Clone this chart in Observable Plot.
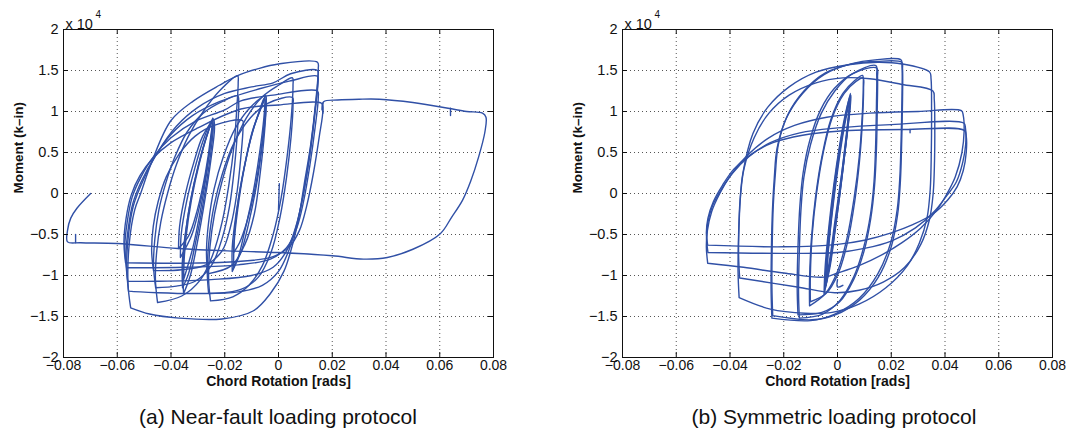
<!DOCTYPE html>
<html><head><meta charset="utf-8">
<script src="https://cdn.jsdelivr.net/npm/d3@7"></script>
<script src="https://cdn.jsdelivr.net/npm/@observablehq/plot@0.6"></script>
<style>
body{margin:0;background:#fff;}
#wrap{position:relative;width:1076px;height:433px;overflow:hidden;font-family:'Liberation Sans',Arial,Helvetica,sans-serif;}
.panel{position:absolute;top:0;}
.cap{position:absolute;top:404px;font-size:21px;line-height:26px;text-align:center;color:#111;white-space:nowrap;}
</style></head>
<body>
<div id="wrap">
  <div id="pa" class="panel" style="left:0"></div>
  <div id="pb" class="panel" style="left:538px"></div>
  <div class="cap" style="left:0;width:556px">(a) Near-fault loading protocol</div>
  <div class="cap" style="left:612px;width:444px">(b) Symmetric loading protocol</div>
</div>
<script>
// Axis ticks
const xTicks = [-0.08,-0.06,-0.04,-0.02,0,0.02,0.04,0.06,0.08];
const yTicks = [-2,-1.5,-1,-0.5,0,0.5,1,1.5,2];
const xLabel = "Chord Rotation [rads]";
const yLabel = "Moment (k\u2013in)";
const yExponent = "4";

// ---- Panel (a): chord rotation [rad], moment [x1e4 k-in] ----
const aExcursion = [[0.0162,1.02],[0.0168,1.12],[0.022,1.14],[0.03,1.15],[0.0376,1.15],[0.05,1.11],[0.0631,1.04],[0.07,1.0],[0.0759,0.98],[0.0772,0.93],[0.0768,0.75],[0.0745,0.45],[0.0715,0.15],[0.0685,-0.08],[0.0644,-0.29],[0.0602,-0.49],[0.05,-0.68],[0.0405,-0.78],[0.0316,-0.8],[0.02,-0.76],[0.0,-0.72],[-0.019,-0.7],[-0.0375,-0.67],[-0.06,-0.61],[-0.0736,-0.6],[-0.0785,-0.59],[-0.0785,-0.45],[-0.0773,-0.3],[-0.075,-0.18],[-0.0699,0.0]];
const aSpike0 = [[0.0003,0.12],[0.0,-0.2]];
const aSpike1 = [[-0.0755,-0.6],[-0.0755,-0.5]];
const aSpike2 = [[0.064,1.04],[0.064,0.95]];
const aSpike3 = [[0.0165,1.1],[0.0165,0.98]];
const aLoop1 = [[-0.055,-1.395],[-0.056,-1.1],[-0.0555,-0.6],[-0.0535,-0.2],[-0.0513,0.0],[-0.047,0.4],[-0.04,0.89],[-0.0316,1.13],[-0.022,1.32],[-0.015,1.44],[-0.0078,1.52],[0.0,1.58],[0.0145,1.6],[0.0148,1.52],[0.0138,1.1],[0.012,0.6],[0.0095,0.1],[0.0075,-0.3],[0.005,-0.65],[0.002,-0.95],[-0.003,-1.22],[-0.0093,-1.43],[-0.021,-1.53],[-0.037,-1.52],[-0.048,-1.47],[-0.055,-1.395]];
const aLoop2 = [[-0.0558,-1.19],[-0.0565,-0.9],[-0.0558,-0.5],[-0.054,-0.15],[-0.0505,0.15],[-0.045,0.5],[-0.038,0.82],[-0.03,1.05],[-0.02,1.22],[-0.01,1.3],[-0.002,1.35],[0.0045,1.46],[0.0145,1.5],[0.0147,1.42],[0.0136,1.0],[0.0118,0.5],[0.0093,0.0],[0.007,-0.35],[0.004,-0.68],[0.0,-0.95],[-0.006,-1.12],[-0.015,-1.2],[-0.03,-1.22],[-0.045,-1.21],[-0.0558,-1.19]];
const aLoop3 = [[-0.0561,-1.07],[-0.0568,-0.8],[-0.056,-0.45],[-0.0542,-0.12],[-0.051,0.15],[-0.046,0.45],[-0.04,0.72],[-0.032,0.95],[-0.022,1.12],[-0.0067,1.28],[0.004,1.37],[0.0145,1.43],[0.0147,1.35],[0.0134,0.95],[0.0115,0.45],[0.009,-0.05],[0.0065,-0.4],[0.003,-0.7],[-0.002,-0.9],[-0.01,-1.0],[-0.025,-1.05],[-0.045,-1.07],[-0.0561,-1.07]];
const aLoop4 = [[-0.0565,-0.905],[-0.0572,-0.65],[-0.0563,-0.35],[-0.0545,-0.05],[-0.0512,0.2],[-0.0465,0.45],[-0.04,0.68],[-0.031,0.88],[-0.02,1.02],[-0.014,1.13],[-0.002,1.2],[0.0145,1.25],[0.0148,1.17],[0.0136,0.8],[0.0117,0.35],[0.0093,-0.1],[0.0068,-0.42],[0.003,-0.66],[-0.003,-0.8],[-0.015,-0.87],[-0.035,-0.9],[-0.0565,-0.905]];
const aLoop5 = [[-0.0569,-0.845],[-0.0575,-0.6],[-0.0567,-0.3],[-0.0548,-0.02],[-0.0515,0.22],[-0.047,0.42],[-0.04,0.62],[-0.03,0.8],[-0.014,1.03],[0.0,1.08],[0.016,1.1],[0.0165,1.02],[0.0152,0.7],[0.013,0.25],[0.0105,-0.15],[0.0078,-0.45],[0.004,-0.65],[-0.002,-0.77],[-0.015,-0.83],[-0.035,-0.85],[-0.0569,-0.845]];
const aLoop6 = [[-0.045,-1.33],[-0.0458,-1.05],[-0.0453,-0.7],[-0.0438,-0.35],[-0.0413,0.0],[-0.038,0.35],[-0.0335,0.7],[-0.028,1.0],[-0.022,1.25],[-0.0152,1.435],[-0.015,1.35],[-0.0155,1.05],[-0.0165,0.6],[-0.0185,0.1],[-0.021,-0.35],[-0.0245,-0.75],[-0.029,-1.05],[-0.036,-1.25],[-0.045,-1.33]];
const aLoop7 = [[-0.0457,-1.15],[-0.0465,-0.88],[-0.046,-0.55],[-0.0445,-0.2],[-0.042,0.12],[-0.0385,0.45],[-0.034,0.75],[-0.028,0.98],[-0.021,1.12],[-0.0152,1.19],[-0.0148,1.1],[-0.0152,0.8],[-0.0163,0.35],[-0.0182,-0.15],[-0.021,-0.55],[-0.025,-0.88],[-0.031,-1.07],[-0.038,-1.13],[-0.0457,-1.15]];
const aLoop8 = [[-0.0465,-0.94],[-0.0472,-0.7],[-0.0466,-0.4],[-0.0448,-0.1],[-0.0418,0.2],[-0.037,0.48],[-0.031,0.7],[-0.024,0.83],[-0.0134,0.89],[-0.0132,0.8],[-0.014,0.45],[-0.0155,0.0],[-0.0178,-0.4],[-0.021,-0.7],[-0.027,-0.87],[-0.036,-0.93],[-0.0465,-0.94]];
const aThin1 = [[-0.0353,-1.22],[-0.0356,-0.95],[-0.0348,-0.55],[-0.0328,-0.1],[-0.0298,0.35],[-0.0265,0.72],[-0.0242,0.91],[-0.0238,0.8],[-0.0252,0.4],[-0.0275,-0.1],[-0.0302,-0.6],[-0.0328,-1.0],[-0.0353,-1.22]];
const aThin2 = [[-0.0357,-1.15],[-0.0358,-0.85],[-0.0345,-0.45],[-0.0322,0.0],[-0.0292,0.42],[-0.0262,0.76],[-0.0245,0.9],[-0.0243,0.78],[-0.0258,0.35],[-0.0282,-0.15],[-0.031,-0.62],[-0.0335,-0.98],[-0.0357,-1.15]];
const aThin3 = [[-0.0365,-0.78],[-0.0362,-0.5],[-0.0342,-0.1],[-0.0312,0.3],[-0.028,0.65],[-0.025,0.88],[-0.0246,0.82],[-0.0262,0.4],[-0.029,-0.1],[-0.0322,-0.5],[-0.0365,-0.78]];
const aThin4 = [[-0.0372,-0.67],[-0.0368,-0.4],[-0.0346,0.0],[-0.0315,0.38],[-0.0282,0.7],[-0.0248,0.86],[-0.0252,0.7],[-0.0272,0.25],[-0.0302,-0.2],[-0.0335,-0.52],[-0.0372,-0.67]];
const aThin5 = [[-0.0353,-1.05],[-0.035,-0.75],[-0.0335,-0.3],[-0.031,0.15],[-0.028,0.55],[-0.0255,0.82],[-0.0244,0.92],[-0.0248,0.75],[-0.0265,0.3],[-0.029,-0.2],[-0.0318,-0.65],[-0.0353,-1.05]];
const aMid1 = [[-0.0253,-1.31],[-0.026,-1.05],[-0.0255,-0.65],[-0.0238,-0.25],[-0.021,0.15],[-0.0172,0.55],[-0.012,0.92],[-0.006,1.18],[0.0,1.32],[0.0052,1.41],[0.0054,1.32],[0.0048,0.95],[0.0032,0.45],[0.001,-0.05],[-0.002,-0.5],[-0.006,-0.88],[-0.011,-1.12],[-0.017,-1.26],[-0.0253,-1.31]];
const aMid2 = [[-0.026,-1.22],[-0.0265,-0.95],[-0.0258,-0.55],[-0.024,-0.15],[-0.0208,0.25],[-0.0165,0.62],[-0.0105,0.92],[-0.004,1.1],[0.0052,1.17],[0.0054,1.08],[0.0047,0.7],[0.003,0.2],[0.0005,-0.3],[-0.0028,-0.72],[-0.0075,-1.02],[-0.014,-1.17],[-0.026,-1.22]];
const aMid3 = [[-0.0264,-0.98],[-0.0268,-0.7],[-0.026,-0.35],[-0.024,0.05],[-0.0205,0.45],[-0.016,0.8],[-0.0105,1.05],[-0.0048,1.19],[-0.0046,1.1],[-0.0052,0.75],[-0.0068,0.25],[-0.009,-0.25],[-0.0125,-0.62],[-0.0175,-0.88],[-0.0264,-0.98]];
const aMid4 = [[-0.0167,-0.9],[-0.0165,-0.6],[-0.0152,-0.2],[-0.0128,0.3],[-0.0098,0.75],[-0.0065,1.05],[-0.0048,1.19],[-0.0046,1.08],[-0.0058,0.65],[-0.0082,0.1],[-0.011,-0.35],[-0.0138,-0.7],[-0.0167,-0.9]];
const aMid5 = [[-0.0167,-0.72],[-0.0163,-0.45],[-0.0148,-0.05],[-0.0122,0.4],[-0.0092,0.8],[-0.006,1.08],[-0.005,1.15],[-0.005,1.0],[-0.0064,0.55],[-0.0088,0.05],[-0.0118,-0.35],[-0.0145,-0.6],[-0.0167,-0.72]];
const aMid6 = [[-0.0172,-0.95],[-0.0172,-0.65],[-0.0158,-0.25],[-0.0135,0.2],[-0.0105,0.65],[-0.0072,1.0],[-0.0052,1.17],[-0.0052,1.02],[-0.0068,0.55],[-0.0095,0.0],[-0.0125,-0.45],[-0.015,-0.78],[-0.0172,-0.95]];

// ---- Panel (b) ----
const bElastic1 = [[-0.0047,-1.18],[-0.0042,-0.85],[-0.0028,-0.35],[-0.001,0.15],[0.001,0.6],[0.003,0.95],[0.0048,1.22],[0.0046,1.05],[0.0033,0.65],[0.0015,0.15],[-0.0005,-0.35],[-0.0025,-0.8],[-0.0047,-1.18]];
const bElastic2 = [[-0.0043,-1.12],[-0.0037,-0.78],[-0.0023,-0.3],[-0.0005,0.2],[0.0015,0.65],[0.0033,0.98],[0.0045,1.15],[0.0042,1.0],[0.0028,0.58],[0.001,0.08],[-0.001,-0.42],[-0.0028,-0.85],[-0.0043,-1.12]];
const bElastic3 = [[-0.005,-1.22],[-0.0046,-0.9],[-0.0032,-0.4],[-0.0014,0.1],[0.0006,0.55],[0.0026,0.92],[0.0046,1.18],[0.0045,1.05],[0.0032,0.66],[0.0013,0.18],[-0.0008,-0.3],[-0.0028,-0.78],[-0.005,-1.22]];
const bElastic4 = [[-0.004,-1.05],[-0.0034,-0.7],[-0.002,-0.25],[-0.0002,0.22],[0.0017,0.65],[0.0035,0.98],[0.005,1.2],[0.0048,1.08],[0.0036,0.72],[0.0018,0.25],[-0.0003,-0.25],[-0.0022,-0.72],[-0.004,-1.05]];
const bElastic5 = [[-0.0045,-1.15],[-0.0041,-0.85],[-0.0027,-0.38],[-0.0009,0.12],[0.001,0.58],[0.0029,0.92],[0.0044,1.12],[0.0043,0.98],[0.0029,0.55],[0.0011,0.05],[-0.0009,-0.45],[-0.0027,-0.88],[-0.0045,-1.15]];
const bHook = [[0.0,-1.05],[0.0,-1.14],[0.002,-1.12]];
const bTick = [[0.027,0.78],[0.027,0.74]];
const bAmp10a = [[-0.0104,-1.37],[-0.0104,-1.05],[-0.0097,-0.55],[-0.0082,-0.05],[-0.0058,0.45],[-0.0025,0.9],[0.002,1.22],[0.0065,1.38],[0.0093,1.44],[0.0096,1.32],[0.0092,0.95],[0.0081,0.45],[0.0062,-0.05],[0.0035,-0.55],[0.0,-0.95],[-0.0045,-1.22],[-0.0104,-1.37]];
const bAmp10b = [[-0.0101,-1.32],[-0.0101,-1.0],[-0.0094,-0.5],[-0.0078,0.0],[-0.0053,0.5],[-0.002,0.92],[0.0025,1.22],[0.007,1.37],[0.0095,1.41],[0.0097,1.28],[0.0093,0.9],[0.0082,0.4],[0.0064,-0.1],[0.0037,-0.6],[0.0002,-0.98],[-0.0043,-1.22],[-0.0101,-1.32]];
const bAmp15a = [[-0.0142,-1.52],[-0.0145,-1.2],[-0.0142,-0.7],[-0.0136,-0.2],[-0.0125,0.2],[-0.01,0.6],[-0.006,0.98],[-0.001,1.25],[0.005,1.45],[0.0143,1.56],[0.0146,1.45],[0.0145,1.1],[0.0142,0.6],[0.0136,0.15],[0.0123,-0.25],[0.0098,-0.65],[0.006,-1.02],[0.001,-1.3],[-0.0055,-1.47],[-0.0142,-1.52]];
const bAmp15b = [[-0.0147,-1.48],[-0.015,-1.15],[-0.0147,-0.65],[-0.014,-0.15],[-0.0128,0.25],[-0.0103,0.65],[-0.0063,1.02],[-0.0012,1.28],[0.0055,1.46],[0.0146,1.53],[0.0149,1.42],[0.0148,1.05],[0.0145,0.55],[0.0138,0.1],[0.0124,-0.3],[0.0099,-0.7],[0.006,-1.05],[0.0008,-1.32],[-0.0058,-1.45],[-0.0147,-1.48]];
const bAmp24a = [[-0.0244,-1.52],[-0.0247,-1.2],[-0.0246,-0.7],[-0.0242,-0.2],[-0.0235,0.2],[-0.0225,0.55],[-0.019,0.92],[-0.013,1.22],[-0.005,1.45],[0.005,1.58],[0.014,1.63],[0.0236,1.63],[0.024,1.55],[0.024,1.2],[0.0237,0.7],[0.0232,0.2],[0.0222,-0.2],[0.0198,-0.6],[0.015,-0.98],[0.008,-1.28],[-0.001,-1.47],[-0.01,-1.55],[-0.0244,-1.52]];
const bAmp24b = [[-0.0241,-1.49],[-0.0244,-1.15],[-0.0243,-0.65],[-0.0239,-0.15],[-0.0231,0.25],[-0.022,0.6],[-0.0185,0.96],[-0.0125,1.25],[-0.0045,1.47],[0.0055,1.58],[0.0145,1.61],[0.0239,1.6],[0.0242,1.52],[0.0242,1.15],[0.0239,0.65],[0.0234,0.15],[0.0224,-0.25],[0.02,-0.65],[0.0152,-1.02],[0.0082,-1.3],[-0.0008,-1.48],[-0.0095,-1.54],[-0.0241,-1.49]];
const bAmp35a = [[-0.0366,-1.27],[-0.037,-0.95],[-0.0368,-0.5],[-0.0363,-0.1],[-0.0352,0.25],[-0.0315,0.73],[-0.026,1.05],[-0.018,1.3],[-0.008,1.48],[0.004,1.57],[0.015,1.6],[0.024,1.58],[0.0343,1.48],[0.0348,1.4],[0.035,1.0],[0.0349,0.5],[0.0345,0.05],[0.0333,-0.3],[0.0305,-0.6],[0.026,-0.88],[0.018,-1.15],[0.008,-1.35],[-0.002,-1.45],[-0.012,-1.46],[-0.025,-1.41],[-0.0366,-1.27]];
const bAmp35b = [[-0.0364,-1.03],[-0.0368,-0.75],[-0.0366,-0.35],[-0.036,0.0],[-0.0348,0.3],[-0.031,0.68],[-0.0255,0.98],[-0.018,1.2],[-0.008,1.35],[0.002,1.41],[0.012,1.4],[0.024,1.33],[0.0355,1.25],[0.036,1.15],[0.0362,0.8],[0.0361,0.4],[0.0356,0.0],[0.0342,-0.32],[0.031,-0.62],[0.025,-0.9],[0.017,-1.08],[0.008,-1.18],[-0.001,-1.21],[-0.015,-1.14],[-0.0364,-1.03]];
const bAmp47a = [[-0.0483,-0.85],[-0.0488,-0.65],[-0.0484,-0.45],[-0.0468,-0.22],[-0.0438,0.0],[-0.0398,0.22],[-0.034,0.45],[-0.026,0.67],[-0.016,0.83],[-0.004,0.93],[0.012,0.98],[0.03,1.0],[0.0461,1.01],[0.0468,0.95],[0.0471,0.75],[0.0463,0.5],[0.0438,0.2],[0.0408,0.0],[0.037,-0.2],[0.031,-0.42],[0.024,-0.6],[0.017,-0.74],[0.008,-0.88],[0.0,-0.97],[-0.005,-1.02],[-0.02,-0.97],[-0.035,-0.9],[-0.0483,-0.85]];
const bAmp47b = [[-0.0482,-0.72],[-0.0487,-0.55],[-0.0482,-0.35],[-0.0465,-0.15],[-0.0432,0.05],[-0.039,0.25],[-0.033,0.45],[-0.025,0.62],[-0.014,0.74],[0.0,0.8],[0.02,0.84],[0.047,0.86],[0.0476,0.8],[0.0477,0.6],[0.0466,0.38],[0.0442,0.14],[0.0408,-0.02],[0.036,-0.22],[0.029,-0.42],[0.02,-0.58],[0.01,-0.67],[0.0,-0.72],[-0.02,-0.73],[-0.0482,-0.72]];
const bAmp47c = [[-0.0483,-0.63],[-0.0488,-0.48],[-0.0482,-0.3],[-0.0462,-0.1],[-0.0428,0.1],[-0.0385,0.3],[-0.032,0.48],[-0.024,0.62],[-0.013,0.71],[0.0,0.76],[0.025,0.78],[0.0472,0.77],[0.0479,0.7],[0.0479,0.5],[0.0468,0.28],[0.0445,0.08],[0.041,-0.08],[0.0355,-0.25],[0.028,-0.38],[0.02,-0.48],[0.01,-0.57],[0.0,-0.62],[-0.02,-0.65],[-0.0483,-0.63]];

const panelA = [aExcursion,aSpike0,aSpike1,aSpike2,aSpike3,aLoop1,aLoop2,aLoop3,aLoop4,aLoop5,aLoop6,aLoop7,aLoop8,aThin1,aThin2,aThin3,aThin4,aThin5,aMid1,aMid2,aMid3,aMid4,aMid5,aMid6];
const panelB = [bElastic1,bElastic2,bElastic3,bElastic4,bElastic5,bHook,bTick,bAmp10a,bAmp10b,bAmp15a,bAmp15b,bAmp24a,bAmp24b,bAmp35a,bAmp35b,bAmp47a,bAmp47b,bAmp47c];

const fmt = d => d === 0 ? "0" : String(d).replace("-", "\u2212");
const W = 538, H = 400, MT = 29, MB = 43;

function chart(paths, ml, mr) {
  const rows = [];
  paths.forEach((pts, i) => pts.forEach(([x, y]) => rows.push({x, y, id: i})));
  const iw = W - ml - mr, ih = H - MT - MB;
  return Plot.plot({
    width: W, height: H, marginLeft: ml, marginRight: mr, marginTop: MT, marginBottom: MB,
    x: {domain: [-0.08, 0.08]},
    y: {domain: [-2, 2]},
    style: {fontFamily: "'Liberation Sans', Arial, Helvetica, sans-serif", fontSize: "14px", color: "#111", background: "white", overflow: "visible"},
    marks: [
      Plot.gridX(xTicks, {stroke: "#555", strokeOpacity: 1, strokeDasharray: "1,3", strokeWidth: 1}),
      Plot.gridY(yTicks, {stroke: "#555", strokeOpacity: 1, strokeDasharray: "1,3", strokeWidth: 1}),
      Plot.line(rows, {x: "x", y: "y", z: "id", stroke: "#3050a6", strokeWidth: 1.4, curve: "catmull-rom"}),
      Plot.frame({stroke: "#111", strokeWidth: 1}),
      Plot.ruleX(xTicks, {insetTop: ih - 5, stroke: "#111"}),
      Plot.ruleX(xTicks, {insetBottom: ih - 5, stroke: "#111"}),
      Plot.ruleY(yTicks, {insetRight: iw - 5, stroke: "#111"}),
      Plot.ruleY(yTicks, {insetLeft: iw - 5, stroke: "#111"}),
      Plot.axisX(xTicks, {tickSize: 0, tickPadding: 3, label: null, tickFormat: fmt, fontSize: 14}),
      Plot.axisY(yTicks, {tickSize: 0, tickPadding: 5, label: null, tickFormat: fmt, fontSize: 14.5}),
      Plot.text([xLabel], {frameAnchor: "bottom", dy: 28.5, fontWeight: "bold", fontSize: 14}),
      Plot.text([yLabel], {frameAnchor: "left", dx: -45, rotate: -90, fontWeight: "bold", fontSize: 13.5}),
      Plot.text(["x 10"], {frameAnchor: "top-left", textAnchor: "start", dx: 2, dy: -11, fontSize: 14.5}),
      Plot.text([yExponent], {frameAnchor: "top-left", textAnchor: "start", dx: 32, dy: -19, fontSize: 10})
    ]
  });
}

document.getElementById("pa").appendChild(chart(panelA, 63, 45));
document.getElementById("pb").appendChild(chart(panelB, 84, 24));
</script>
</body></html>
